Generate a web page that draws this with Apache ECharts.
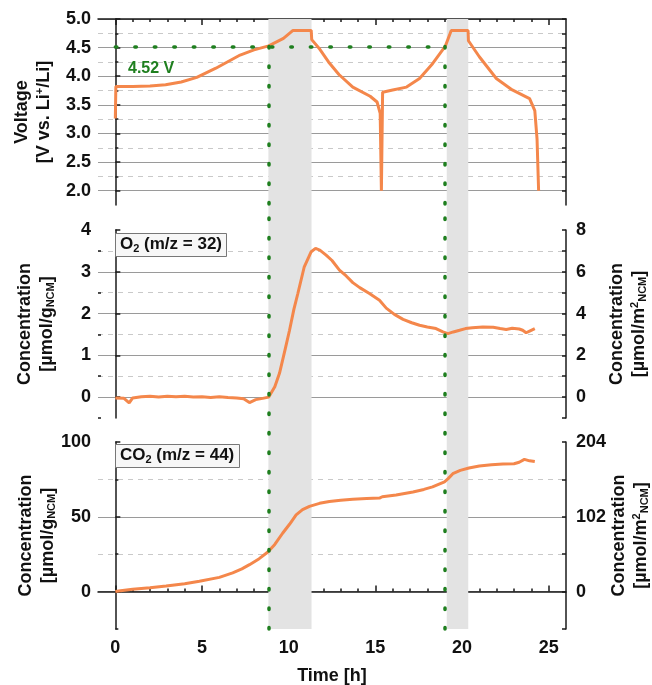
<!DOCTYPE html>
<html>
<head>
<meta charset="utf-8">
<script src="https://cdn.jsdelivr.net/npm/echarts@6/dist/echarts.min.js"></script>
<style>
html, body { margin: 0; padding: 0; background: #fff; }
#view { width: 652px; height: 685px; }
</style>
</head>
<body>
<div id="view"></div>
<script>
// cell voltage (top panel)
let voltTime = [0, 0.03, 1, 2, 2.9, 3.8, 4.7, 5.8, 7.2, 8.0, 8.85, 9.7, 10.25, 11.3, 11.33, 11.8, 12.3, 12.9, 13.7, 14.7, 15.1, 15.28, 15.35, 15.42, 16.0, 16.8, 17.55, 18.3, 19.03, 19.38, 20.35, 20.37, 21.0, 21.98, 22.9, 23.9, 24.2, 24.33, 24.42];
let voltValue = [3.26, 3.82, 3.82, 3.83, 3.85, 3.9, 3.98, 4.14, 4.37, 4.46, 4.53, 4.66, 4.8, 4.8, 4.64, 4.47, 4.25, 4.03, 3.81, 3.65, 3.55, 3.35, 2.0, 3.72, 3.76, 3.81, 3.96, 4.22, 4.52, 4.8, 4.8, 4.62, 4.34, 3.96, 3.76, 3.61, 3.4, 2.9, 2.0];

// O2 concentration (middle panel)
let o2Time = [0, 0.5, 0.8, 1.0, 1.5, 2, 2.5, 3, 3.5, 4, 4.5, 5, 5.5, 6, 6.5, 7, 7.4, 7.74, 8.1, 8.5, 8.85, 9.2, 9.47, 9.8, 10.05, 10.3, 10.53, 10.9, 11.3, 11.55, 11.8, 12.16, 12.5, 12.93, 13.32, 13.7, 14.1, 14.66, 15.24, 15.63, 16.1, 16.6, 17.1, 17.55, 18.0, 18.5, 18.9, 19.19, 19.5, 19.86, 20.2, 20.6, 21.2, 21.8, 22.2, 22.55, 22.9, 23.3, 23.5, 23.7, 23.9, 24.2];
let o2Value = [-0.02, -0.03, -0.14, -0.02, 0.01, 0.02, 0.0, 0.02, 0.01, 0.02, 0.0, 0.01, -0.01, 0.01, -0.01, -0.02, -0.04, -0.13, -0.06, -0.03, 0.0, 0.25, 0.57, 1.15, 1.6, 2.1, 2.48, 3.12, 3.48, 3.56, 3.52, 3.4, 3.27, 3.04, 2.9, 2.74, 2.62, 2.48, 2.32, 2.13, 1.98, 1.86, 1.78, 1.72, 1.68, 1.64, 1.56, 1.52, 1.56, 1.6, 1.64, 1.66, 1.68, 1.67, 1.64, 1.62, 1.65, 1.63, 1.6, 1.54, 1.58, 1.64];

// CO2 concentration (bottom panel)
let co2Time = [0, 0.3, 1.0, 2, 2.93, 4, 4.85, 6, 6.77, 7.3, 7.74, 8.3, 8.8, 9.2, 9.65, 10.05, 10.43, 10.8, 11.2, 11.78, 12.35, 13.0, 13.7, 14.5, 15.24, 15.4, 16.2, 17.17, 17.8, 18.3, 18.99, 19.2, 19.47, 19.9, 20.4, 21, 21.7, 22.36, 23.0, 23.3, 23.6, 23.9, 24.2];
let co2Value = [0, 0.5, 1.5, 2.6, 3.8, 5.3, 6.9, 9.5, 12.5, 15.2, 18, 22, 26.5, 31.5, 39, 45, 51.3, 54.8, 57, 59, 60.2, 61, 61.8, 62.2, 62.5, 63.4, 64.6, 66.6, 68.3, 70.0, 73.4, 75.5, 78.8, 81, 82.6, 84, 84.8, 85.3, 85.5, 86.5, 88.4, 87.4, 86.9];

// ticks
let timeMajor = [0, 5, 10, 15, 20, 25];
let timeMinor = [1, 2, 3, 4, 6, 7, 8, 9, 11, 12, 13, 14, 16, 17, 18, 19, 21, 22, 23, 24];
let voltMajor = [2.0, 2.5, 3.0, 3.5, 4.0, 4.5, 5.0];
let voltMinor = [2.25, 2.75, 3.25, 3.75, 4.25, 4.75];
let o2Major = [0, 1, 2, 3, 4];
let o2Minor = [-0.5, 0.5, 1.5, 2.5, 3.5];
let o2RightLabels = [0, 2, 4, 6, 8];
let o2RightTicks = [-1, 0, 1, 2, 3, 4, 5, 6, 7, 8];
let co2Major = [0, 50, 100];
let co2Minor = [-25, 25, 75];
let co2RightLabels = [0, 102, 204];
let co2RightTicks = [-51, 0, 51, 102, 153, 204];

// markers
let cutoffVoltage = 4.52;
let cutoffTimes = [8.85, 19.03];
let holdBands = [[8.83, 11.32], [19.12, 20.36]];

let FONT = "'Liberation Sans', Arial, sans-serif";
let ORANGE = "#f4874b";
let GREEN = "#1f7f1f";
let AXIS = "#1a1a1a";

function pairs(t, v) {
  return t.map((x, i) => [x, v[i]]);
}

let chart = echarts.init(document.getElementById("view"), null, { renderer: "canvas" });

let nameStyle = {
  fontSize: 18,
  fontWeight: "bold",
  color: "#111",
  fontFamily: FONT,
  lineHeight: 22,
  rich: {
    sup: { fontSize: 11, fontWeight: "bold", color: "#111", fontFamily: FONT, padding: [0, 0, 8, 0] },
    sub: { fontSize: 11, fontWeight: "bold", color: "#111", fontFamily: FONT, padding: [8, 0, 0, 0] },
  },
};
let labelStyle = { fontSize: 18, fontWeight: "bold", color: "#111", fontFamily: FONT };
let axisLine = { show: true, lineStyle: { color: AXIS, width: 1.5 } };
let solidGrid = { lineStyle: { color: "#9a9a9a", width: 1, type: "solid" } };
let dashGrid = { lineStyle: { color: "#c9c9c9", width: 1, type: [5, 5] } };

let grids = [
  { left: 98, right: 86, top: 19, height: 186 },
  { left: 98, right: 86, top: 230, height: 188 },
  { left: 98, right: 86, top: 442, height: 187 },
  { left: 98, right: 86, top: 19, height: 610 },
  { left: 98, right: 86, top: 205, height: 424 },
].map((g) => Object.assign({ outerBoundsMode: "none", containLabel: false }, g));

function hiddenX(g) {
  return { type: "value", gridIndex: g, min: -1, max: 26, show: false };
}

let xAxes = [
  // top panel frame
  {
    type: "value", gridIndex: 0, position: "top", min: -1, max: 26,
    axisLine: axisLine,
    axisTick: { show: true, inside: true, length: 6, customValues: timeMajor, lineStyle: { color: AXIS, width: 1.5 } },
    axisLabel: { show: false }, splitLine: { show: false },
  },
  {
    type: "value", gridIndex: 0, position: "top", min: -1, max: 26,
    axisLine: { show: false },
    axisTick: { show: true, inside: true, length: 3, customValues: timeMinor, lineStyle: { color: AXIS, width: 1.5 } },
    axisLabel: { show: false }, splitLine: { show: false },
  },
  hiddenX(1),
  // bottom panel time axis
  {
    type: "value", gridIndex: 2, position: "bottom", min: -1, max: 26,
    axisLine: axisLine,
    axisTick: { show: true, inside: true, length: 6, customValues: timeMajor, lineStyle: { color: AXIS, width: 1.5 } },
    axisLabel: Object.assign({ customValues: timeMajor, margin: 10 }, labelStyle),
    splitLine: { show: false },
    name: "Time [h]", nameLocation: "middle", nameGap: 38, nameMoveOverlap: false,
    nameTextStyle: { fontSize: 18, fontWeight: "bold", color: "#111", fontFamily: FONT },
  },
  {
    type: "value", gridIndex: 2, position: "bottom", min: -1, max: 26,
    axisLine: { show: false },
    axisTick: { show: true, inside: true, length: 3, customValues: timeMinor, lineStyle: { color: AXIS, width: 1.5 } },
    axisLabel: { show: false }, splitLine: { show: false },
  },
  hiddenX(3),
  hiddenX(4),
];

function majorY(g, min, max, major, name, gap, hideMax, fmt) {
  return {
    type: "value", gridIndex: g, position: "left", min: min, max: max,
    axisLine: axisLine,
    axisTick: { show: true, inside: true, length: 5, customValues: major, lineStyle: { color: AXIS, width: 1.5 } },
    axisLabel: Object.assign({ customValues: major, margin: 7, formatter: fmt }, labelStyle),
    splitLine: Object.assign({ show: true, showMaxLine: !hideMax, showMinLine: true }, solidGrid),
    name: name, nameLocation: "middle", nameRotate: 90, nameGap: gap, nameMoveOverlap: false,
    nameTextStyle: nameStyle,
  };
}
function minorY(g, min, max, minor) {
  return {
    type: "value", gridIndex: g, position: "left", min: min, max: max,
    axisLine: { show: false },
    axisTick: { show: true, inside: true, length: 3, customValues: minor, lineStyle: { color: AXIS, width: 1.5 } },
    axisLabel: { show: false },
    splitLine: Object.assign({ show: true, showMinLine: minor[0] > min }, dashGrid),
  };
}
function rightY(g, min, max, ticks, labels, name, gap) {
  return {
    type: "value", gridIndex: g, position: "right", min: min, max: max,
    axisLine: axisLine,
    axisTick: { show: true, inside: true, length: 4, customValues: ticks, lineStyle: { color: AXIS, width: 1.5 } },
    axisLabel: labels ? Object.assign({ customValues: labels, margin: 10 }, labelStyle) : { show: false },
    splitLine: { show: false },
    name: name || "", nameLocation: "middle", nameRotate: 90, nameGap: gap || 40, nameMoveOverlap: false,
    nameTextStyle: nameStyle,
  };
}

let oneDecimal = (v) => v.toFixed(1);

let yAxes = [
  majorY(0, 1.75, 5, voltMajor, "Voltage\n[V vs. Li{sup|+}/Li]", 43, false, oneDecimal),
  minorY(0, 1.75, 5, voltMinor),
  rightY(0, 1.75, 5, voltMajor.concat(voltMinor), null, null),
  majorY(1, -0.5, 4, o2Major, "Concentration\n[µmol/g{sub|NCM}]", 40, true),
  minorY(1, -0.5, 4, o2Minor),
  rightY(1, -1, 8, o2RightTicks, o2RightLabels, "Concentration\n[µmol/m{sup|2}{sub|NCM}]", 40),
  majorY(2, -25, 100, co2Major, "Concentration\n[µmol/g{sub|NCM}]", 39, true),
  minorY(2, -25, 100, co2Minor),
  rightY(2, -51, 204, co2RightTicks, co2RightLabels, "Concentration\n[µmol/m{sup|2}{sub|NCM}]", 42),
  { type: "value", gridIndex: 3, min: 0, max: 1, show: false },
  { type: "value", gridIndex: 4, min: 0, max: 1, show: false },
];

let greenLine = { color: GREEN, width: 3.5, type: [1.5, 18], cap: "round" };

let series = [
  {
    // grey hold bands behind everything
    type: "line", xAxisIndex: 5, yAxisIndex: 9, data: [], z: -1, silent: true,
    markArea: {
      silent: true,
      itemStyle: { color: "#e3e3e3" },
      data: holdBands.map((b) => [{ xAxis: b[0] }, { xAxis: b[1] }]),
    },
  },
  {
    // green cut-off lines in the voltage panel
    type: "line", xAxisIndex: 0, yAxisIndex: 0, data: [], z: 2, silent: true,
    markLine: {
      silent: true, symbol: "none", label: { show: false }, lineStyle: greenLine,
      data: [[{ coord: [0, cutoffVoltage] }, { coord: [cutoffTimes[1], cutoffVoltage] }]].concat(
        cutoffTimes.map((t) => [{ coord: [t, cutoffVoltage] }, { coord: [t, 1.75] }])
      ),
    },
  },
  {
    // green cut-off lines through lower panels
    type: "line", xAxisIndex: 6, yAxisIndex: 10, data: [], z: 2, silent: true,
    markLine: {
      silent: true, symbol: "none", label: { show: false }, lineStyle: greenLine,
      data: cutoffTimes.map((t) => ({ xAxis: t })),
    },
  },
  {
    type: "line", xAxisIndex: 0, yAxisIndex: 0, data: pairs(voltTime, voltValue),
    showSymbol: false, lineStyle: { color: ORANGE, width: 3 }, z: 3,
  },
  {
    type: "line", xAxisIndex: 2, yAxisIndex: 3, data: pairs(o2Time, o2Value),
    showSymbol: false, lineStyle: { color: ORANGE, width: 3 }, z: 3,
  },
  {
    type: "line", xAxisIndex: 3, yAxisIndex: 6, data: pairs(co2Time, co2Value),
    showSymbol: false, lineStyle: { color: ORANGE, width: 3 }, z: 3,
  },
];

let boxRich = {
  a: { fontSize: 17, fontWeight: "bold", color: "#111", fontFamily: FONT },
  b: { fontSize: 11, fontWeight: "bold", color: "#111", fontFamily: FONT, padding: [8, 0, 0, 0] },
};

let option = {
  animation: false,
  backgroundColor: "#fff",
  textStyle: { fontFamily: FONT },
  title: [
    {
      text: "4.52 V", left: 123, top: 56,
      textStyle: { fontSize: 16, fontWeight: "bold", color: GREEN, fontFamily: FONT },
    },
    {
      text: "{a|O}{b|2}{a| (m/z = 32)}", left: 115, top: 232,
      padding: [3, 5, 3, 5], borderColor: "#777", borderWidth: 1, backgroundColor: "#f7f7f7",
      textStyle: { rich: boxRich },
    },
    {
      text: "{a|CO}{b|2}{a| (m/z = 44)}", left: 115, top: 443,
      padding: [3, 5, 3, 5], borderColor: "#777", borderWidth: 1, backgroundColor: "#f7f7f7",
      textStyle: { rich: boxRich },
    },
  ],
  grid: grids,
  xAxis: xAxes,
  yAxis: yAxes,
  series: series,
};
chart.setOption(option);
</script>
</body>
</html>
